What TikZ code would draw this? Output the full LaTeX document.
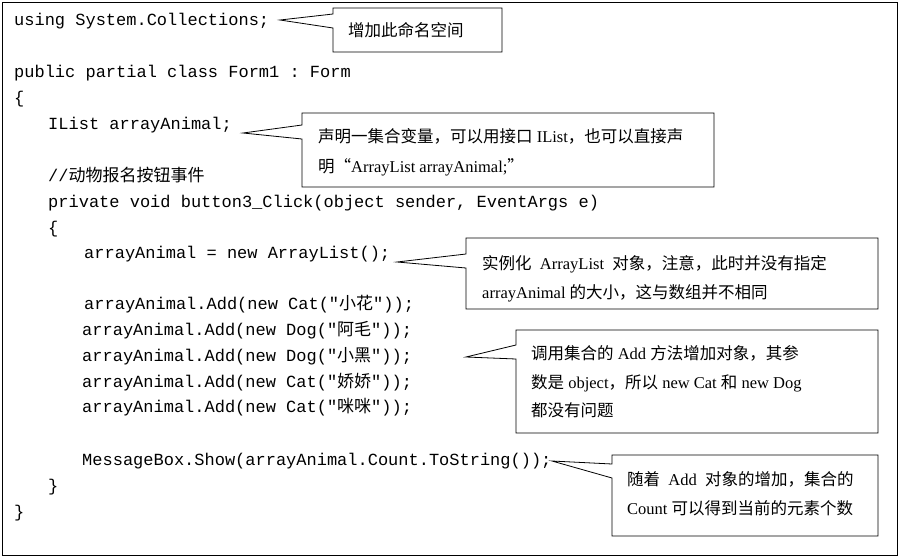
\documentclass[tikz,border=0pt]{standalone}
\usepackage{fontspec}
\setmainfont{Liberation Serif}
\setmonofont{Liberation Mono}
\newfontfamily\cjk{Noto Sans CJK SC}
\begin{document}
\begin{tikzpicture}[x=1pt,y=-1pt,
  code/.style={anchor=base west,inner sep=0,font=\ttfamily\fontsize{17}{18}\selectfont},
  note/.style={anchor=base west,inner sep=0,font=\fontsize{16.5}{18}\selectfont},
  box/.style={draw,line width=0.8pt}]
\useasboundingbox (0,0) rectangle (900,558);
\draw[line width=0.8pt] (2,2) rectangle (897,555);
% code
\node[code] (c1) at (14,25) {using System.Collections;};
\node[code] (c2) at (14,77) {public partial class Form1 : Form};
\node[code] (c3) at (14,103) {\{};
\node[code] (c4) at (48,129) {IList arrayAnimal;};
\node[code] (c5) at (48,181) {//{\cjk 动物报名按钮事件}};
\node[code] (c6) at (48,207) {private void button3\_Click(object sender, EventArgs e)};
\node[code] (c7) at (48,233) {\{};
\node[code] (c8) at (84,258) {arrayAnimal = new ArrayList();};
\node[code] (c9) at (84,309) {arrayAnimal.Add(new Cat("{\cjk 小花}"));};
\node[code] (c10) at (82,335) {arrayAnimal.Add(new Dog("{\cjk 阿毛}"));};
\node[code] (c11) at (82,361) {arrayAnimal.Add(new Dog("{\cjk 小黑}"));};
\node[code] (c12) at (82,387) {arrayAnimal.Add(new Cat("{\cjk 娇娇}"));};
\node[code] (c13) at (82,412) {arrayAnimal.Add(new Cat("{\cjk 咪咪}"));};
\node[code] (c14) at (82,465) {MessageBox.Show(arrayAnimal.Count.ToString());};
\node[code] (c15) at (48,491) {\}};
\node[code] (c16) at (14,517) {\}};
% callouts
\newcommand\mycallout[8]{\coordinate (t#1) at (#6,#7);
  \draw[box] (#2,#3) -- (#2,#8) -- (t#1) -- (#2,#8+14) -- (#2,#5) -- (#4,#5) -- (#4,#3) -- cycle;}
\mycallout{a}{333}{8}{502}{52}{280}{20}{14}
\mycallout{b}{302}{113}{714}{187}{243}{133}{125}
\mycallout{c}{466}{238}{878}{309}{397}{262}{254}
\mycallout{d}{516}{330}{878}{433}{466}{357}{345}
\mycallout{e}{612}{455}{878}{536}{552}{461}{464}
\node[note] (n1) at (348,36) {\cjk 增加此命名空间};
\node[note] (n2) at (318,142) {{\cjk 声明一集合变量，可以用接口} IList{\cjk ，也可以直接声}};
\node[note] (n3) at (318,172) {{\cjk 明“}ArrayList arrayAnimal;{\cjk ”}};
\node[note] (n4) at (482,269) {{\cjk 实例化}\ \ ArrayList\ \ {\cjk 对象，注意，此时并没有指定}};
\node[note] (n5) at (482,298) {arrayAnimal {\cjk 的大小，这与数组并不相同}};
\node[note] (n6) at (531,359) {{\cjk 调用集合的} Add {\cjk 方法增加对象，其参}};
\node[note] (n7) at (531,388) {{\cjk 数是} object{\cjk ，所以} new Cat {\cjk 和} new Dog};
\node[note] (n8) at (531,416) {\cjk 都没有问题};
\node[note] (n9) at (627,485) {{\cjk 随着}\ \ Add\ \ {\cjk 对象的增加，集合的}};
\node[note] (n10) at (627,514) {Count {\cjk 可以得到当前的元素个数}};
\end{tikzpicture}
\end{document}
